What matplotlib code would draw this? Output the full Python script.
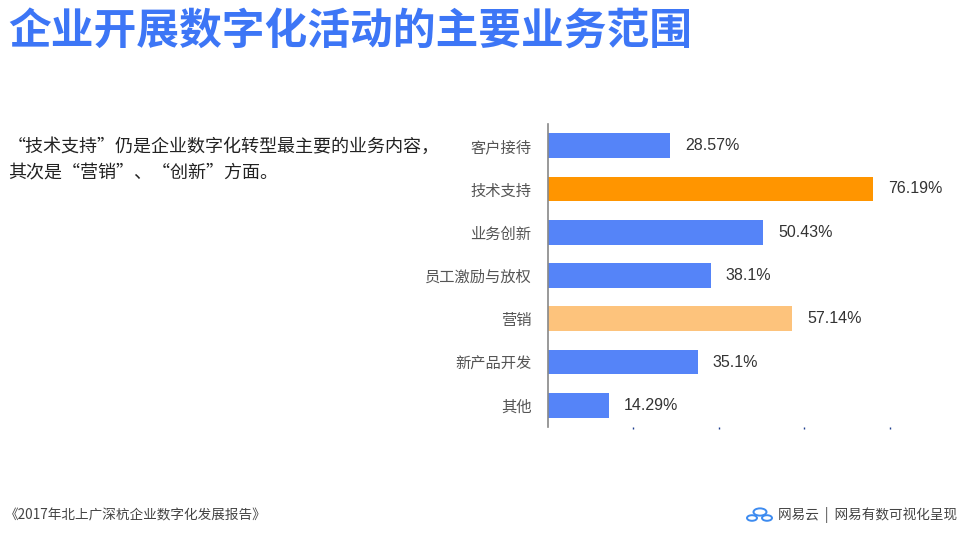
import matplotlib.pyplot as plt
from matplotlib.patches import Circle

plt.rcParams['font.family'] = ['Noto Sans CJK SC', 'DejaVu Sans']

categories = ["客户接待", "技术支持", "业务创新", "员工激励与放权", "营销", "新产品开发", "其他"]
values = [28.57, 76.19, 50.43, 38.1, 57.14, 35.1, 14.29]
labels = ["28.57%", "76.19%", "50.43%", "38.1%", "57.14%", "35.1%", "14.29%"]
colors = ["#5584F8", "#FF9500", "#5584F8", "#5584F8", "#FDC37C", "#5584F8", "#5584F8"]

W, H = 964, 537
fig = plt.figure(figsize=(W / 100, H / 100), dpi=100)

# chart area in pixel coords
x0, x1 = 548, 958
y_top, y_bot = 124, 427
ax = fig.add_axes([x0 / W, 1 - y_bot / H, (x1 - x0) / W, (y_bot - y_top) / H])
ypos = list(range(len(categories)))
ax.barh(ypos, values, height=0.57, color=colors)
ax.set_ylim(len(categories) - 0.5, -0.5)
ax.set_xlim(0, 96)
for y, v, t in zip(ypos, values, labels):
    ax.text(v + 3.5, y, t, va="center", ha="left", fontsize=11.5, color="#333333",
            family=["Liberation Sans", "DejaVu Sans"])
ax.set_yticks(ypos)
ax.set_yticklabels(categories, fontsize=11, color="#555555")
ax.tick_params(axis="y", length=0, pad=12)
ax.set_xticks([20, 40, 60, 80])
ax.set_xticklabels([])
ax.tick_params(axis="x", length=1.5, width=1, color="#1f3f8f", direction="out")
for s in ["top", "right", "bottom"]:
    ax.spines[s].set_visible(False)
ax.spines["left"].set_color("#888888")
ax.spines["left"].set_linewidth(1.2)

# title and notes
fig.text(8 / W, 1 - 32 / H, "企业开展数字化活动的主要业务范围", fontsize=30.8,
         fontweight="bold", color="#3D76F6", va="center", ha="left")
fig.text(8 / W, 1 - 147 / H, "“技术支持”仍是企业数字化转型最主要的业务内容，",
         fontsize=13, color="#222222", va="center", ha="left")
fig.text(8 / W, 1 - 173 / H, "其次是“营销”、“创新”方面。",
         fontsize=13, color="#222222", va="center", ha="left")

fig.text(5 / W, 1 - 515 / H, "《2017年北上广深杭企业数字化发展报告》",
         fontsize=9.8, color="#444444", va="center", ha="left")
fig.text(957 / W, 1 - 515 / H, "网易云  |  网易有数可视化呈现",
         fontsize=9.8, color="#444444", va="center", ha="right")

# small cloud logo
for cx, cy, r in [(752, 518, 5), (760, 512, 6.5), (767, 518, 5)]:
    fig.add_artist(Circle((cx / W, 1 - cy / H), r / W, transform=fig.transFigure,
                          fill=False, edgecolor="#3D8BF0", linewidth=1.4))

fig.savefig("out.png", dpi=100)
